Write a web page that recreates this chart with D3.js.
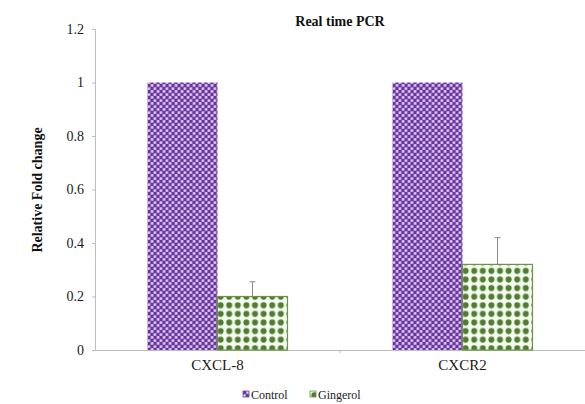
<!DOCTYPE html>
<html><head><meta charset="utf-8">
<script src="https://cdn.jsdelivr.net/npm/d3@7"></script>
<style>body{margin:0;background:#fff}svg{display:block}</style>
</head><body>
<svg id="c" width="585" height="404"></svg>
<script>
const categories = ["CXCL-8", "CXCR2"];
const seriesNames = ["Control", "Gingerol"];
const controlValues = [1.0, 1.0];
const gingerolValues = [0.20, 0.32];
const controlErrors = [0, 0];
const gingerolErrors = [0.055, 0.10];
const yTicks = [0, 0.2, 0.4, 0.6, 0.8, 1, 1.2];

const FONT = "Liberation Serif";
const svg = d3.select("#c").style("font-family", FONT);
const defs = svg.append("defs");
// Control pattern
const p1 = defs.append("pattern").attr("id","pc").attr("patternUnits","userSpaceOnUse").attr("width",6).attr("height",6);
p1.append("rect").attr("width",6).attr("height",6).attr("fill","#c4a0e6");
[[1.5,1.5],[4.5,4.5]].forEach(([x,y])=>{
  p1.append("circle").attr("cx",x).attr("cy",y).attr("r",2.0).attr("fill","#68379c");
});
[[4.5,1.5],[1.5,4.5]].forEach(([x,y])=>{
  p1.append("circle").attr("cx",x).attr("cy",y).attr("r",0.9).attr("fill","#f4e9fc");
});
// Gingerol pattern
const p2 = defs.append("pattern").attr("id","pg").attr("patternUnits","userSpaceOnUse").attr("width",8.6).attr("height",8.6);
p2.append("rect").attr("width",8.6).attr("height",8.6).attr("fill","#f4faef");
p2.append("circle").attr("cx",4.3).attr("cy",4.3).attr("r",3.0).attr("fill","#507c30");

const x0 = d3.scaleBand().domain(categories).range([95, 585]).paddingInner(0).paddingOuter(0);
const x1 = d3.scaleBand().domain(seriesNames).range([0, 140]);
const y = d3.scaleLinear().domain([0, 1.2]).range([350, 29]);

// axes
const yAxis = d3.axisLeft(y).tickValues(yTicks).tickSize(3).tickFormat(d=>d3.format("")(d));
const ga = svg.append("g").attr("transform","translate(95,0)").call(yAxis);
ga.attr("font-family", FONT);
ga.select(".domain").attr("stroke","#bdbdbd");
ga.selectAll(".tick line").attr("stroke","#bdbdbd");
ga.selectAll(".tick text").style("font-family",FONT).style("font-size","14px").attr("fill","#1a1a1a").attr("x",-11);

const xAxis = d3.axisBottom(x0).tickSize(0).tickSizeOuter(0);
const gx = svg.append("g").attr("transform","translate(0,350)").call(xAxis);
gx.attr("font-family", FONT);
gx.select(".domain").attr("stroke","#bdbdbd");
gx.selectAll(".tick text").style("font-family",FONT).style("font-size","15px").attr("fill","#1a1a1a").attr("dy","1.15em");
// mid tick between categories
svg.append("line").attr("x1",x0("CXCR2")).attr("x2",x0("CXCR2")).attr("y1",350).attr("y2",353).attr("stroke","#bdbdbd");

const data = categories.map((c,i)=>({c, vals:[
  {s:"Control", v:controlValues[i], e:controlErrors[i]},
  {s:"Gingerol", v:gingerolValues[i], e:gingerolErrors[i]}]}));

const groups = svg.append("g").selectAll("g").data(data).join("g")
  .attr("transform", d=>`translate(${x0(d.c)+x0.bandwidth()/2-70},0)`);
groups.selectAll("rect").data(d=>d.vals).join("rect")
  .attr("x", d=>x1(d.s)).attr("width", x1.bandwidth())
  .attr("y", d=>y(d.v)).attr("height", d=>y(0)-y(d.v))
  .attr("fill", d=>d.s==="Control"?"url(#pc)":"url(#pg)")
  .attr("stroke", d=>d.s==="Control"?"none":"#6a9448").attr("stroke-width",1.2);
groups.selectAll("g.err").data(d=>d.vals.filter(v=>v.e>0)).join("g").attr("class","err").each(function(d){
  const g = d3.select(this); const cx = x1(d.s)+x1.bandwidth()/2;
  g.append("line").attr("x1",cx).attr("x2",cx).attr("y1",y(d.v)).attr("y2",y(d.v+d.e)).attr("stroke","#8a8a8a");
  g.append("line").attr("x1",cx-3).attr("x2",cx+3).attr("y1",y(d.v+d.e)).attr("y2",y(d.v+d.e)).attr("stroke","#8a8a8a");
});

// title
svg.append("text").attr("x",340).attr("y",26).attr("text-anchor","middle").style("font-family",FONT).attr("font-weight","bold").attr("font-size",14).attr("fill","#111").text("Real time PCR");
// y label
svg.append("text").attr("transform","translate(42,190) rotate(-90)").attr("text-anchor","middle").style("font-family",FONT).attr("font-weight","bold").attr("font-size",14).attr("fill","#111").text("Relative Fold change");

// legend
const leg = svg.append("g").selectAll("g").data(seriesNames).join("g")
  .attr("transform",(d,i)=>`translate(${i===0?243:310},391)`);
leg.append("rect").attr("width",6).attr("height",6).attr("fill",d=>d==="Control"?"url(#pc)":"url(#pg)")
  .attr("stroke",d=>d==="Control"?"#7a4aa8":"#6a9448").attr("stroke-width",0.8);
leg.append("text").attr("x",8).attr("y",7.5).style("font-family",FONT).attr("font-size",12).attr("fill","#222").text(d=>d);
</script>
</body></html>
